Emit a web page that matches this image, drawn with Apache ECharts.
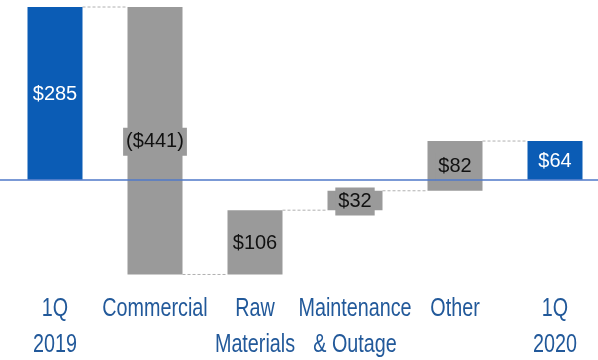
<!DOCTYPE html>
<html>
<head>
<meta charset="utf-8">
<script src="https://cdn.jsdelivr.net/npm/echarts@6/dist/echarts.min.js"></script>
<style>html,body{margin:0;padding:0;background:#fff;overflow:hidden;}#c{width:598px;height:360px;}</style>
</head>
<body>
<div id="c"></div>
<script>
const categories = ['1Q\n2019', 'Commercial', 'Raw\nMaterials', 'Maintenance\n& Outage', 'Other', '1Q\n2020'];
const values = [285, -441, 106, 32, 82, 64];
const isTotal = [true, false, false, false, false, true];
const valueLabels = ['$285', '($441)', '$106', '$32', '$82', '$64'];

const BLUE = '#0b5cb5';
const GRAY = '#9a9a9a';
const FONT = "'Liberation Sans', Arial, sans-serif";
const Y_MIN = -175, Y_MAX = 285;

// build waterfall segments from the values
const bars = [];
const connectors = [];
let running = 0;
values.forEach((v, i) => {
  let s, e;
  if (isTotal[i]) { s = 0; e = v; running = v; }
  else { s = running; e = running + v; running = e; }
  bars.push([i, s, e, isTotal[i] ? 1 : 0]);
});
for (let i = 0; i < bars.length - 1; i++) {
  const lvl = isTotal[i + 1] ? bars[i + 1][2] : bars[i][2];
  connectors.push([i, lvl]);
}
const catData = categories.map((c, i) => [i, Y_MIN]);

const chart = echarts.init(document.getElementById('c'), null, {renderer: 'canvas'});
chart.setOption({
  animation: false,
  backgroundColor: '#fff',
  grid: {left: 0, right: 0, top: 7, bottom: 74},
  xAxis: {
    type: 'value',
    min: -0.55, max: 5.43,
    show: false,
    splitLine: {show: false}
  },
  yAxis: {
    type: 'value', min: Y_MIN, max: Y_MAX,
    show: false, splitLine: {show: false}
  },
  series: [
    {
      type: 'custom',
      data: connectors,
      silent: true,
      z: 1,
      renderItem: function (params, api) {
        const i = api.value(0), lvl = api.value(1);
        const bw = api.size([1, 0])[0] * 0.55;
        const p1 = api.coord([i, lvl]);
        const p2 = api.coord([i + 1, lvl]);
        return {
          type: 'line',
          shape: {x1: p1[0] + bw / 2, y1: p1[1], x2: p2[0] - bw / 2, y2: p2[1]},
          style: {stroke: '#b0b0b0', lineWidth: 1, lineDash: [3, 2]}
        };
      },
      markLine: {
        silent: true, symbol: 'none',
        label: {show: false},
        lineStyle: {color: '#4f78c8', width: 1.5, type: 'solid'},
        data: [{yAxis: 0}]
      }
    },
    {
      type: 'custom',
      data: bars,
      z: 2,
      renderItem: function (params, api) {
        const i = api.value(0), s = api.value(1), e = api.value(2);
        const total = api.value(3) === 1;
        const text = valueLabels[params.dataIndex];
        const bw = api.size([1, 0])[0] * 0.55;
        const a = api.coord([i, s]), b = api.coord([i, e]);
        const y0 = Math.min(a[1], b[1]), y1 = Math.max(a[1], b[1]);
        return {
          type: 'group',
          children: [
            {
              type: 'rect',
              shape: {x: a[0] - bw / 2, y: y0, width: bw, height: y1 - y0},
              style: {fill: total ? BLUE : GRAY}
            },
            {
              type: 'text',
              x: a[0], y: (y0 + y1) / 2 + 1,
              style: {
                text: text, align: 'center', verticalAlign: 'middle',
                fill: total ? '#ffffff' : '#111111',
                font: '20px ' + FONT,
                backgroundColor: total ? null : GRAY,
                padding: total ? 0 : [4, 3, 4, 3]
              }
            }
          ]
        };
      }
    },
    {
      // category labels (drawn narrow, as in the reference)
      type: 'custom',
      data: catData,
      silent: true,
      clip: false,
      z: 3,
      renderItem: function (params, api) {
        const p = api.coord([api.value(0), api.value(1)]);
        return {
          type: 'text',
          x: p[0], y: p[1] + 5,
          scaleX: 0.76, scaleY: 1,
          style: {
            text: categories[params.dataIndex],
            align: 'center', verticalAlign: 'top',
            fill: '#22599a', font: '26px ' + FONT, lineHeight: 36
          }
        };
      }
    }
  ]
});
</script>
</body>
</html>
